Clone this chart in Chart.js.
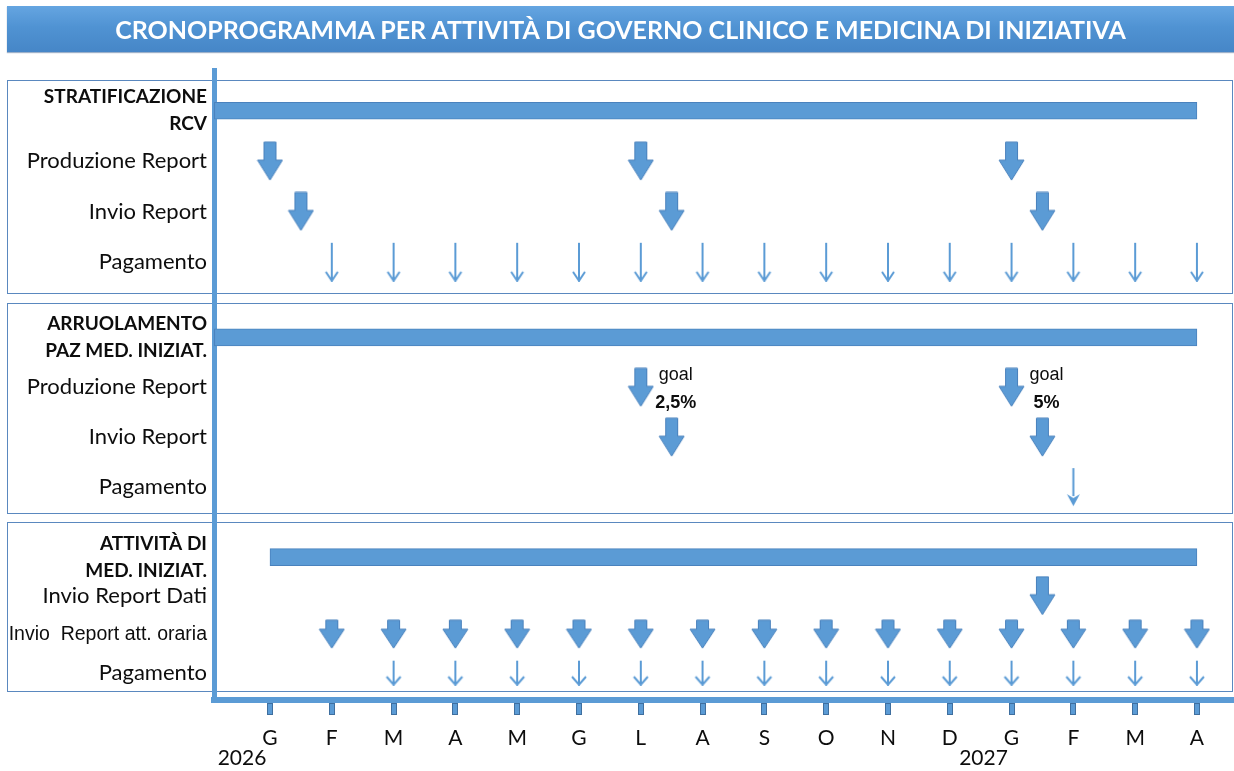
<!DOCTYPE html>
<html>
<head>
<meta charset="utf-8">
<title>Cronoprogramma</title>
<script src="https://cdn.jsdelivr.net/npm/chart.js@4.4.1/dist/chart.umd.min.js"></script>
<style>
  body { margin: 0; background: #fff; }
  #wrap { position: relative; width: 1234px; height: 771px; }
  #chartBox { position: absolute; left: 0; top: 0; width: 1234px; height: 771px; }
  #banner {
    position: absolute; left: 7px; top: 6px; width: 1227px; height: 46px; z-index: 2;
    background: linear-gradient(to bottom, #65a5e1 0%, #5093d3 45%, #4686c7 100%);
    color: #fff; font: bold 25px Lato, sans-serif;
    display: flex; align-items: center; justify-content: center;
    box-shadow: 0 1px 1px rgba(60, 100, 150, 0.5);
  }
</style>
</head>
<body>
<div id="wrap">
  <div id="banner">CRONOPROGRAMMA PER ATTIVITÀ DI GOVERNO CLINICO E MEDICINA DI INIZIATIVA</div>
  <div id="chartBox"><canvas id="crono"></canvas></div>
</div>
<script>
// --- data (months: 0 = G 2026 ... 15 = A 2027) ---
const monthLabels = ["G", "F", "M", "A", "M", "G", "L", "A", "S", "O", "N", "D", "G", "F", "M", "A"];
const yearMonths = [0, 12];
const yearLabels = ["2026", "2027"];

const stratRows = [["STRATIFICAZIONE", "RCV"], "Produzione Report", "Invio Report", "Pagamento"];
const stratBar = [-0.9, 15];
const stratProduzione = [0, 6, 12];
const stratInvio = [0.5, 6.5, 12.5];
const stratPagamento = [1, 2, 3, 4, 5, 6, 7, 8, 9, 10, 11, 12, 13, 14, 15];

const arruolRows = [["ARRUOLAMENTO", "PAZ MED. INIZIAT."], "Produzione Report", "Invio Report", "Pagamento"];
const arruolBar = [-0.9, 15];
const arruolProduzione = [6, 12];
const arruolGoal = ["2,5%", "5%"];
const arruolInvio = [6.5, 12.5];
const arruolPagamento = [13];

const attivRows = [["ATTIVITÀ DI", "MED. INIZIAT."], "Invio Report Dati", "Invio  Report att. oraria", "Pagamento"];
const attivBar = [0, 15];
const attivReportDati = [12.5];
const attivOraria = [1, 2, 3, 4, 5, 6, 7, 8, 9, 10, 11, 12, 13, 14, 15];
const attivPagamento = [2, 3, 4, 5, 6, 7, 8, 9, 10, 11, 12, 13, 14, 15];

// --- look ---
const BLUE = "#5b9bd5";
const EDGE = "#4a82bd";
const TEXT = "#0d0d0d";
const LABEL_FONT = "Lato";

function makeArrow(w, h, shaftW, shaftH) {
  const c = document.createElement("canvas");
  c.width = w + 2;
  c.height = h + 2;
  const g = c.getContext("2d");
  const cx = c.width / 2;
  g.beginPath();
  g.moveTo(cx - shaftW / 2, 1);
  g.lineTo(cx + shaftW / 2, 1);
  g.lineTo(cx + shaftW / 2, 1 + shaftH);
  g.lineTo(cx + w / 2, 1 + shaftH);
  g.lineTo(cx, 1 + h);
  g.lineTo(cx - w / 2, 1 + shaftH);
  g.lineTo(cx - shaftW / 2, 1 + shaftH);
  g.closePath();
  g.fillStyle = BLUE;
  g.fill();
  g.strokeStyle = EDGE;
  g.lineWidth = 1;
  g.stroke();
  return c;
}

function makeThinArrow(h, headW, headH, filled) {
  const c = document.createElement("canvas");
  c.width = headW + 4;
  c.height = h + 2;
  const g = c.getContext("2d");
  const cx = c.width / 2;
  const tip = h + 1;
  g.strokeStyle = BLUE;
  g.fillStyle = BLUE;
  g.lineWidth = 2;
  g.beginPath();
  g.moveTo(cx, 1);
  g.lineTo(cx, filled ? tip - headH + 2 : tip - 1);
  g.stroke();
  g.beginPath();
  g.moveTo(cx - headW / 2, tip - headH);
  g.lineTo(cx, tip);
  g.lineTo(cx + headW / 2, tip - headH);
  if (filled) {
    g.lineTo(cx, tip - headH + 4);
    g.closePath();
    g.fill();
  } else {
    g.stroke();
  }
  return c;
}

const bigArrow = makeArrow(25, 38, 12, 18);
const midArrow = makeArrow(25, 28, 12, 9);
const thinArrow = makeThinArrow(38, 12, 9, false);
const thinFilled = makeThinArrow(38, 13, 12, true);
const shortArrow = makeThinArrow(24, 14, 8, false);

function barSet(range, axis) {
  return {
    type: "bar",
    indexAxis: "y",
    xAxisID: "x",
    yAxisID: axis,
    data: [{ x: range, y: 0 }],
    backgroundColor: BLUE,
    borderColor: EDGE,
    borderWidth: 1,
    borderSkipped: false,
    barThickness: 17,
  };
}

function arrowSet(months, row, axis, img) {
  return {
    type: "scatter",
    xAxisID: "x",
    yAxisID: axis,
    data: months.map((m) => ({ x: m, y: row })),
    pointStyle: img,
    pointRadius: 6,
    showLine: false,
  };
}

function rowFont(special) {
  return (ctx) => {
    if (ctx.index === 0) {
      return { family: LABEL_FONT, size: 19, weight: "bold", lineHeight: 1.42 };
    }
    if (special && special[ctx.index]) return special[ctx.index];
    return { family: LABEL_FONT, size: 22, weight: "normal", lineHeight: 1.2 };
  };
}

function rowAxis(rows, min, max, share, order, special) {
  return {
    type: "linear",
    position: "left",
    stack: "rows",
    stackWeight: share,
    weight: order,
    reverse: true,
    offset: false,
    min: min,
    max: max,
    afterBuildTicks: (s) => {
      s.ticks = rows.map((_, i) => ({ value: i }));
    },
    afterFit: (s) => {
      s.width = 214;
    },
    grid: { display: false, drawTicks: false, offset: false },
    border: { display: true, color: BLUE, width: 5 },
    ticks: {
      autoSkip: false,
      padding: 7,
      color: TEXT,
      font: rowFont(special),
      callback: (v) => rows[v],
    },
  };
}

// section frames, inset from each row axis [top, bottom]
const frameInsets = { yA: [10, 5], yB: [5, 4.5], yC: [4.5, 9.5] };

const frames = {
  id: "frames",
  beforeDraw(chart) {
    const ctx = chart.ctx;
    ctx.save();
    ctx.strokeStyle = "#5a88bf";
    ctx.lineWidth = 1;
    Object.keys(frameInsets).forEach((id) => {
      const s = chart.scales[id];
      const [t, b] = frameInsets[id];
      const top = Math.round(s.top + t) + 0.5;
      const bottom = Math.round(s.bottom - b) + 0.5;
      ctx.strokeRect(7.5, top, chart.width - 9, bottom - top);
    });
    ctx.restore();
  },
  afterDraw(chart) {
    const ctx = chart.ctx;
    const x = chart.scales.x;
    ctx.save();
    // month tick marks
    monthLabels.forEach((_, i) => {
      const px = Math.round(x.getPixelForValue(i));
      ctx.fillStyle = BLUE;
      ctx.fillRect(px - 3, x.top + 3, 6, 12);
      ctx.strokeStyle = "#3f6f9f";
      ctx.lineWidth = 1;
      ctx.strokeRect(px - 2.5, x.top + 3.5, 5, 11);
    });
    // years
    ctx.fillStyle = TEXT;
    ctx.font = "21px " + LABEL_FONT;
    ctx.textAlign = "center";
    ctx.textBaseline = "middle";
    yearMonths.forEach((m, i) => {
      ctx.fillText(yearLabels[i], x.getPixelForValue(m) - 28, x.top + 58);
    });
    // goals next to Produzione Report arrows
    const yB = chart.scales.yB;
    const py = yB.getPixelForValue(1);
    arruolProduzione.forEach((m, i) => {
      const px = x.getPixelForValue(m) + 35;
      ctx.font = "18px 'Liberation Sans'";
      ctx.fillText("goal", px, py - 12);
      ctx.font = "bold 18px 'Liberation Sans'";
      ctx.fillText(arruolGoal[i], px, py + 16);
    });
    ctx.restore();
  },
};

new Chart(document.getElementById("crono"), {
  type: "scatter",
  data: {
    datasets: [
      barSet(stratBar, "yA"),
      barSet(arruolBar, "yB"),
      barSet(attivBar, "yC"),
      arrowSet(stratProduzione, 1, "yA", bigArrow),
      arrowSet(stratInvio, 2, "yA", bigArrow),
      arrowSet(stratPagamento, 3, "yA", thinArrow),
      arrowSet(arruolProduzione, 1, "yB", bigArrow),
      arrowSet(arruolInvio, 2, "yB", bigArrow),
      arrowSet(arruolPagamento, 3, "yB", thinFilled),
      arrowSet(attivReportDati, 1, "yC", bigArrow),
      arrowSet(attivOraria, 2, "yC", midArrow),
      arrowSet(attivPagamento, 3, "yC", shortArrow),
    ],
  },
  options: {
    responsive: true,
    maintainAspectRatio: false,
    animation: false,
    events: [],
    layout: { autoPadding: false, padding: { top: 70, left: 0, right: 0, bottom: 0 } },
    plugins: { legend: { display: false }, tooltip: { enabled: false } },
    scales: {
      x: {
        type: "linear",
        position: "bottom",
        offset: false,
        min: -0.906,
        max: 15.6,
        afterBuildTicks: (s) => {
          s.ticks = monthLabels.map((_, i) => ({ value: i }));
        },
        afterFit: (s) => {
          s.height = 71;
        },
        grid: { display: false, drawTicks: false },
        border: { display: true, color: BLUE, width: 6 },
        ticks: {
          autoSkip: false,
          maxRotation: 0,
          padding: 26,
          color: TEXT,
          font: { family: LABEL_FONT, size: 21 },
          callback: (v) => monthLabels[v],
        },
      },
      yA: rowAxis(stratRows, -0.81, 3.72, 228, 3),
      yB: rowAxis(arruolRows, -0.79, 3.61, 219.5, 2),
      yC: rowAxis(attivRows, -1.03, 3.71, 182.5, 1, {
        2: { family: "Liberation Sans", size: 19.5, weight: "normal", lineHeight: 1.2 },
      }),
    },
  },
  plugins: [frames],
});
</script>
</body>
</html>
